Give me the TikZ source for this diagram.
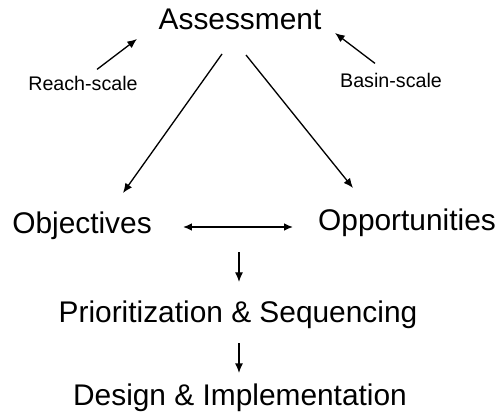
\documentclass[tikz,border=0pt]{standalone}
\usepackage{fontspec}
\setmainfont{Liberation Sans}
\usetikzlibrary{arrows.meta}

\tikzset{
  stage/.style={font=\fontsize{17}{20}\selectfont, inner sep=0pt, anchor=base},
  scalelabel/.style={font=\fontsize{11.2}{13}\selectfont, inner sep=0pt, anchor=base},
  arr/.style={-{Latex[length=5.5pt,width=4.6pt]}, line width=0.75pt},
  dblarr/.style={{Latex[length=5pt,width=4.2pt]}-{Latex[length=5pt,width=4.2pt]}, line width=0.75pt},
}

\begin{document}
\begin{tikzpicture}[x=0.02cm,y=-0.02cm]
	\useasboundingbox (0,0) rectangle (500,419);
	
	\node[stage] (assess) at (240,30) {Assessment};
	\node[stage] (obj) at (82,233) {Objectives};
	\node[stage] (opp) at (407,230) {Opportunities};
	\node[stage] (prio) at (238,322) {Prioritization \& Sequencing};
	\node[stage] (design) at (240,405) {Design \& Implementation};
	
	\node[scalelabel] (reach) at (83,90) {Reach-scale};
	\node[scalelabel] (basin) at (391,87) {Basin-scale};
	
	% arrow ends
	\coordinate (reach-tip) at (137,39);
	\coordinate (basin-tip) at (335,33);
	\coordinate (assess-l) at (222,54);
	\coordinate (assess-r) at (246,55);
	\coordinate (obj-top) at (123,193);
	\coordinate (opp-top) at (353,188);
	\coordinate (obj-r) at (183,227);
	\coordinate (opp-l) at (293,227);
	\coordinate (prio-top) at (239,282);
	\coordinate (prio-bot) at (239,343);
	\coordinate (design-top) at (239,373);
	
	\draw[arr] (reach.north) ++(14,-6) coordinate (reach-base) -- (reach-tip);
	\draw[arr] (basin.north) ++(-16,-9) coordinate (basin-base) -- (basin-tip);
	
	\draw[arr] (assess-l) -- (obj-top);
	\draw[arr] (assess-r) -- (opp-top);
	\draw[dblarr] (obj-r) -- (opp-l);
	
	\draw[arr] (239,252) coordinate (below-mid) -- (prio-top);
	\draw[arr] (prio-bot) -- (design-top);
	
\end{tikzpicture}
\end{document}
